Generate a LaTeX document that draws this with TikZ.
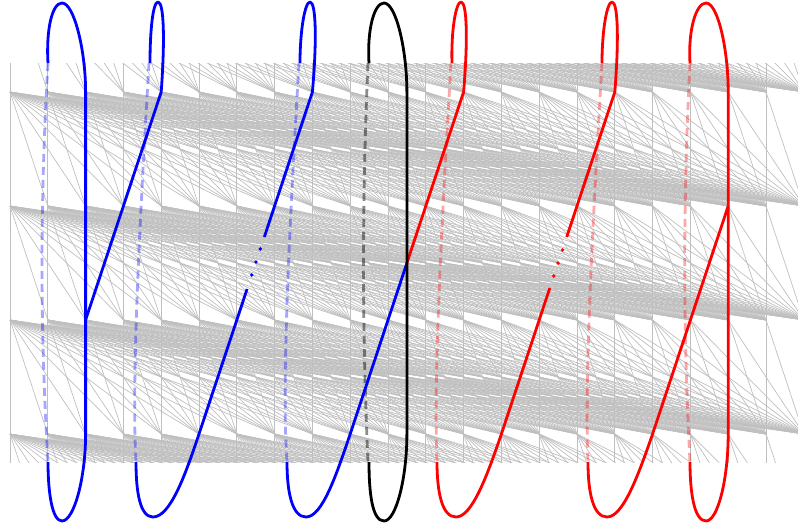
\documentclass[tikz,border=0pt]{standalone}
\usetikzlibrary{calc}

\begin{document}
\begin{tikzpicture}[x=1pt, y=-1pt,
      mesh/.style={draw=black!25, line width=0.7pt},
      strand/.style={line width=2.8pt, line join=round},
      back/.style={line width=2.8pt, dash pattern=on 8pt off 5pt, opacity=0.35}
    ]
    \useasboundingbox (0,0) rectangle (798,531);

    % mesh between the rows
    \begin{scope}
      \clip (9.6,63) rectangle (798,462);
      \foreach \r in {-22,92,206,320,434} {
        \foreach \i in {0,...,21} {
          \foreach \j in {\i,...,21} {
            \draw[mesh] ({10+37.8*\i},\r) -- ({10+37.8*\j},{\r+114});
          }
        }
      }
    \end{scope}

    % vertices used by the strands
    \coordinate (c2r1) at (85.6,92);
    \coordinate (c2r3) at (85.6,320);
    \coordinate (c2r4) at (85.6,434);
    \coordinate (c4r1) at (161.2,92);
    \coordinate (c5r4) at (199,434);
    \coordinate (c8r1) at (312.4,92);
    \coordinate (c9r4) at (350.2,434);
    \coordinate (cmr1) at (406.9,92);
    \coordinate (mid)  at (406.9,263);
    \coordinate (cmr4) at (406.9,434);
    \coordinate (c12r1) at (463.6,92);
    \coordinate (c13r4) at (501.4,434);
    \coordinate (c16r1) at (614.8,92);
    \coordinate (c17r4) at (652.6,434);
    \coordinate (c19r1) at (728.2,92);
    \coordinate (c19r2) at (728.2,206);
    \coordinate (c19r4) at (728.2,434);

    % back sides
    \draw[back, blue]  (48,63) .. controls (40,200) and (40,330) .. (48,462);
    \draw[back, blue]  (149,63) .. controls (141,200) and (131,380) .. (136,462);
    \draw[back, blue]  (299,63) .. controls (291,200) and (281,380) .. (287,462);
    \draw[back, black, opacity=0.45] (368,63) .. controls (362,200) and (362,330) .. (368,462);
    \draw[back, red]   (451,63) .. controls (443,200) and (433,380) .. (437,462);
    \draw[back, red]   (602,63) .. controls (594,200) and (584,380) .. (588,462);
    \draw[back, red]   (690,63) .. controls (683,200) and (683,330) .. (690,462);

    % blue strands
    \draw[strand, blue] (48,63) .. controls (46,30) and (52,3) .. (62,3)
      .. controls (74,3) and (85.6,50) .. (c2r1) -- (c2r4)
      .. controls (85.6,478) and (74,521) .. (62,521)
      .. controls (52,521) and (48,492) .. (48,462);
    \draw[strand, blue] (150,63) .. controls (150,30) and (153,2) .. (158,2)
      .. controls (164,2) and (165,40) .. (c4r1) -- (c2r3);
    \draw[strand, blue] (300,63) .. controls (300,30) and (305,2) .. (310,2)
      .. controls (316,2) and (317,40) .. (c8r1) -- ($(c8r1)!0.424!(c5r4)$);
    \draw[strand, blue] ($(c8r1)!0.576!(c5r4)$) -- (c5r4)
      .. controls (185,476) and (170,517) .. (153,517)
      .. controls (140,517) and (136,492) .. (136,462);
    \foreach \t in {0.459,0.497,0.535}
      \fill[blue] ($(c8r1)!\t!(c5r4)$) circle (1.9pt);
    \draw[strand, blue] (mid) -- (c9r4)
      .. controls (336,476) and (322,517) .. (306,517)
      .. controls (292,517) and (287,492) .. (287,462);

    % red strands
    \draw[strand, red] (452,63) .. controls (451,30) and (456,2) .. (461,2)
      .. controls (467,2) and (468,40) .. (c12r1) -- (mid);
    \draw[strand, red] (602,63) .. controls (602,30) and (607,2) .. (612,2)
      .. controls (618,2) and (619,40) .. (c16r1) -- ($(c16r1)!0.424!(c13r4)$);
    \draw[strand, red] ($(c16r1)!0.573!(c13r4)$) -- (c13r4)
      .. controls (487,476) and (472,517) .. (456,517)
      .. controls (442,517) and (437,492) .. (437,462);
    \foreach \t in {0.462,0.5,0.538}
      \fill[red] ($(c13r4)!\t!(c16r1)$) circle (1.9pt);
    \draw[strand, red] (c19r2) -- (c17r4)
      .. controls (638,476) and (623,517) .. (607,517)
      .. controls (593,517) and (588,492) .. (588,462);
    \draw[strand, red] (690,63) .. controls (688,30) and (696,3) .. (706,3)
      .. controls (718,3) and (728.2,50) .. (c19r1) -- (c19r4)
      .. controls (728.2,478) and (718,521) .. (706,521)
      .. controls (694,521) and (690,492) .. (690,462);

    % black strand
    \draw[strand, black] (369,63) .. controls (367,30) and (374,3) .. (384,3)
      .. controls (396,3) and (406.9,50) .. (cmr1) -- (cmr4)
      .. controls (406.9,478) and (396,521) .. (384,521)
      .. controls (372,521) and (369,492) .. (369,462);
  \end{tikzpicture}
\end{document}
